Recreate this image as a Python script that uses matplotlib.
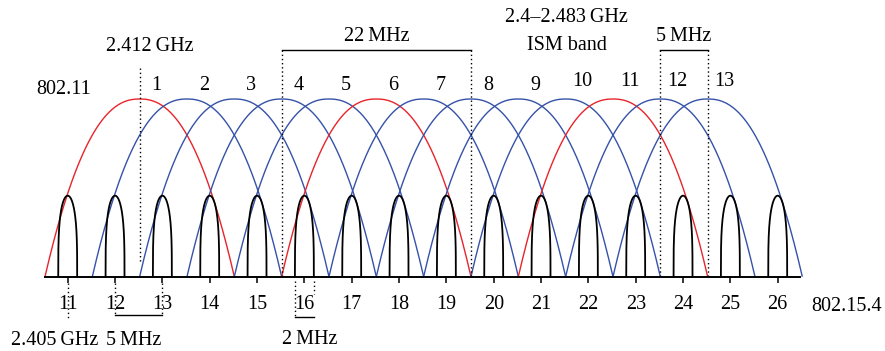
import numpy as np
import matplotlib
matplotlib.use("Agg")
import matplotlib.pyplot as plt

# ---------------- data ----------------
wifi_channels = [1, 2, 3, 4, 5, 6, 7, 8, 9, 10, 11, 12, 13]
wifi_centers = [2412.6, 2417.6, 2422.6, 2427.6, 2432.6, 2437.6, 2442.6,
                2447.6, 2452.6, 2457.6, 2462.6, 2467.6, 2472.6]   # MHz (as drawn)
wifi_width = 20.0            # drawn width of a Wi-Fi channel lobe (MHz)
wifi_level = 1.0
wifi_red = [1, 6, 11]        # non-overlapping channels

zigbee_channels = [11, 12, 13, 14, 15, 16, 17, 18, 19, 20, 21, 22, 23, 24, 25, 26]
zigbee_centers = [2405, 2410, 2415, 2420, 2425, 2430, 2435, 2440,
                  2445, 2450, 2455, 2460, 2465, 2470, 2475, 2480]  # MHz
zigbee_width = 2.0
zigbee_level = 0.456

RED = "#e8242b"
BLUE = "#3552a8"

# ---------------- layout helpers ----------------
W, H, DPI = 885, 351, 100
PXMHZ = 9.4667
X0PX = 67.7          # pixel x of 2405 MHz
BASE_PX = 276.7
UNIT_PX = 177.7

def px2x(px):
    return zigbee_centers[0] + (px - X0PX) / PXMHZ

def px2y(py):
    return (BASE_PX - py) / UNIT_PX

plt.rcParams["font.family"] = ["Liberation Serif", "DejaVu Serif"]
FS = 14.5

fig = plt.figure(figsize=(W / DPI, H / DPI), dpi=DPI)
ax = fig.add_axes([0, 0, 1, 1])
ax.set_xlim(px2x(0), px2x(W))
ax.set_ylim(px2y(H), px2y(0))
ax.patch.set_alpha(0)

# Wi-Fi lobes
u = np.linspace(-1, 1, 401)
for ch, c in zip(wifi_channels, wifi_centers):
    x = c + u * wifi_width / 2
    y = wifi_level * (1 - np.abs(u) ** 2.3)
    ax.plot(x, y, color=RED if ch in wifi_red else BLUE, lw=1.0, zorder=2,
            solid_capstyle="butt")

# ZigBee bells
for ch, c in zip(zigbee_channels, zigbee_centers):
    x = c + u * zigbee_width / 2
    y = zigbee_level * np.clip(1 - u ** 2, 0, None) ** 0.3
    ax.plot(x, y, color="black", lw=1.3, zorder=3)

# axis line with ZigBee channel ticks
for s in ["left", "right", "top"]:
    ax.spines[s].set_visible(False)
ax.spines["bottom"].set_position(("data", 0))
ax.spines["bottom"].set_bounds(px2x(44.5), px2x(799.5))
ax.spines["bottom"].set_linewidth(1.4)
ax.spines["bottom"].set_zorder(4)
ax.set_yticks([])
ax.set_xticks(zigbee_centers)
ax.set_xticklabels([str(c) for c in zigbee_channels])
ax.tick_params(axis="x", direction="out", length=4.3, width=1.1,
               pad=9.0, labelsize=FS)

DOT = dict(color="black", lw=1.0, linestyle=(0, (1, 2)), zorder=5)
LINE = dict(color="black", lw=1.0, zorder=5)

# Wi-Fi channel labels
for ch, c in zip(wifi_channels, wifi_centers):
    yb = px2y(90.5) if ch < 10 else px2y(85.5)
    ax.text(c + 1.8, yb, str(ch), fontsize=FS, ha="center", va="baseline")

# 2.412 GHz marker
c1 = wifi_centers[0]
ax.plot([c1, c1], [px2y(68), px2y(262)], **DOT)
ax.text(px2x(150), px2y(50.7), "2.412\u2009GHz", fontsize=FS, ha="center", va="baseline")
ax.text(px2x(63.3), px2y(94.3), "802.11", fontsize=FS, ha="center", va="baseline")

# 22 MHz bracket (channel 6)
c6 = wifi_centers[5]
l6, r6 = c6 - wifi_width / 2, c6 + wifi_width / 2
ax.plot([l6, r6], [px2y(50), px2y(50)], **LINE)
ax.plot([l6, l6], [px2y(50), 0], **DOT)
ax.plot([r6, r6], [px2y(50), 0], **DOT)
ax.text((l6 + r6) / 2, px2y(40.7), "22\u2009MHz", fontsize=FS, ha="center", va="baseline")

# ISM band label
ax.text(px2x(566.5), px2y(21.7), "2.4\u20132.483\u2009GHz", fontsize=FS, ha="center", va="baseline")
ax.text(px2x(566.5), px2y(50), "ISM band", fontsize=FS, ha="center", va="baseline")

# 5 MHz bracket (channels 12-13)
c12, c13 = wifi_centers[11], wifi_centers[12]
ax.plot([c12, c13], [px2y(49.5), px2y(49.5)], **LINE)
ax.plot([c12, c12], [px2y(49.5), 0], **DOT)
ax.plot([c13, c13], [px2y(49.5), 0], **DOT)
ax.text((c12 + c13) / 2, px2y(41), "5\u2009MHz", fontsize=FS, ha="center", va="baseline")

# bottom annotations
z11, z12, z13 = zigbee_centers[0], zigbee_centers[1], zigbee_centers[2]
ax.plot([z11, z11], [px2y(283), px2y(318)], **DOT)
ax.plot([z12, z12], [px2y(283), px2y(315)], **DOT)
ax.plot([z13, z13], [px2y(283), px2y(315)], **DOT)
ax.plot([z12, z13], [px2y(315), px2y(315)], **LINE)
ax.text(px2x(55), px2y(345), "2.405\u2009GHz", fontsize=FS, ha="center", va="baseline")
ax.text(px2x(134), px2y(345), "5\u2009MHz", fontsize=FS, ha="center", va="baseline")

z16 = zigbee_centers[5]
l16, r16 = z16 - zigbee_width / 2, z16 + zigbee_width / 2
ax.plot([l16, l16], [px2y(281), px2y(316.5)], **DOT)
ax.plot([r16, r16], [px2y(281), px2y(294)], **DOT)
ax.plot([l16, r16], [px2y(316.5), px2y(316.5)], **LINE)
ax.text(px2x(310), px2y(344), "2\u2009MHz", fontsize=FS, ha="center", va="baseline")

ax.text(px2x(846.7), px2y(310.7), "802.15.4", fontsize=FS, ha="center", va="baseline")

fig.savefig("out.png", dpi=DPI, facecolor="white")
